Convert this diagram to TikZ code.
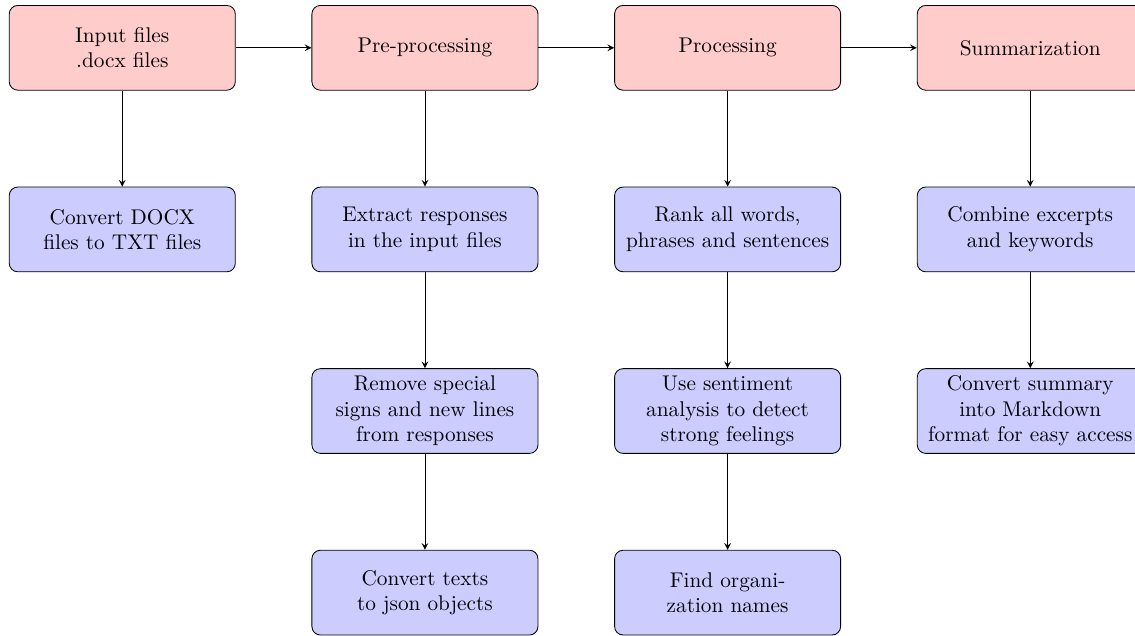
\documentclass[tikz,border=0pt]{standalone}
\usepackage{tikz}

\begin{document}
\begin{tikzpicture}[>=stealth,
    stagebox/.style ={rectangle, rounded corners, draw, fill=red!20, text width=3.5cm, align=center, minimum height=1.4cm},
    taskbox/.style ={rectangle, rounded corners, draw, fill=blue!20, text width=3.5cm, align=center, minimum height=1.4cm}]
   \useasboundingbox (-2.02,0.79) rectangle (16.73,-9.71);

   \node[stagebox] (in)  at (0,0)  {Input files\\.docx files};
   \node[stagebox] (pre) at (5,0)  {Pre-processing};
   \node[stagebox] (pro) at (10,0) {Processing};
   \node[stagebox] (sum) at (15,0) {Summarization};

   \node[taskbox] (in1)  at (0,-3)  {Convert DOCX files to TXT files};
   \node[taskbox] (pre1) at (5,-3)  {Extract responses in the input files};
   \node[taskbox] (pre2) at (5,-6)  {Remove special signs and new lines from responses};
   \node[taskbox] (pre3) at (5,-9)  {Convert texts to json objects};
   \node[taskbox] (pro1) at (10,-3) {Rank all words, phrases and sentences};
   \node[taskbox] (pro2) at (10,-6) {Use sentiment analysis to detect strong feelings};
   \node[taskbox] (pro3) at (10,-9) {Find organization names};
   \node[taskbox] (sum1) at (15,-3) {Combine excerpts and keywords};
   \node[taskbox] (sum2) at (15,-6) {Convert summary into Markdown format for easy access};

   
   \draw[->] (in) -- (pre);
   \draw[->] (pre) -- (pro);
   \draw[->] (pro) -- (sum);

   \draw[->] (in) -- (in1);
   \draw[->] (pre) -- (pre1);
   \draw[->] (pre1) -- (pre2);
   \draw[->] (pre2) -- (pre3);
   \draw[->] (pro) -- (pro1);
   \draw[->] (pro1) -- (pro2);
   \draw[->] (pro2) -- (pro3);
   \draw[->] (sum) -- (sum1);
   \draw[->] (sum1) -- (sum2);
 \end{tikzpicture}
\end{document}
